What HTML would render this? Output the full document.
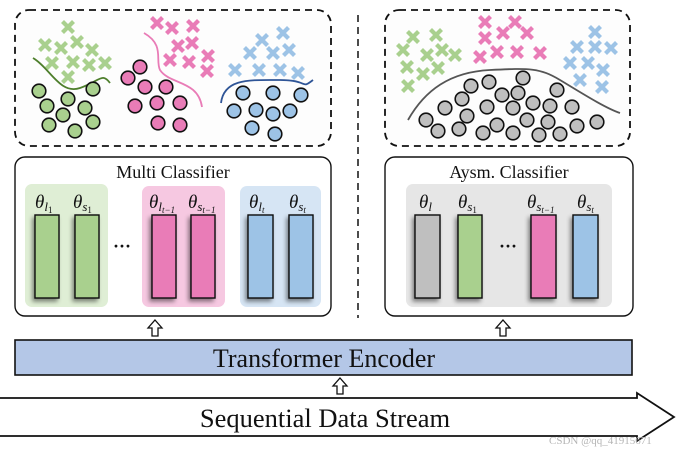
<!DOCTYPE html>
<html><head><meta charset="utf-8"><style>
html,body{margin:0;padding:0;background:#fff;}
svg{display:block;}
text{font-family:"Liberation Serif",serif;}
</style></head><body>
<svg width="688" height="451" viewBox="0 0 688 451" xmlns="http://www.w3.org/2000/svg">
<defs>
<path id="x" d="M-5.5,-5.5L5.5,5.5M-5.5,5.5L5.5,-5.5" fill="none" stroke-width="4.2"/>
<circle id="o" r="6.8" stroke="#111" stroke-width="1.6"/>
<filter id="sh" x="-40%" y="-10%" width="180%" height="130%"><feDropShadow dx="-2" dy="3" stdDeviation="2" flood-color="#000" flood-opacity="0.45"/></filter>
</defs>
<rect width="688" height="451" fill="#fff"/>

<rect x="15" y="10" width="316" height="136" rx="14" fill="#fdfdfd" stroke="#111" stroke-width="1.8" stroke-dasharray="7,5"/>
<rect x="385" y="10" width="245" height="136" rx="14" fill="#fdfdfd" stroke="#111" stroke-width="1.8" stroke-dasharray="7,5"/>
<line x1="358" y1="15" x2="358" y2="318" stroke="#111" stroke-width="1.5" stroke-dasharray="7,5"/>

<g stroke="#a9d08e">
<use href="#x" x="68" y="27"/><use href="#x" x="45" y="45"/><use href="#x" x="61" y="48"/><use href="#x" x="77" y="42"/><use href="#x" x="92" y="50"/><use href="#x" x="52" y="63"/><use href="#x" x="73" y="62"/><use href="#x" x="89" y="65"/><use href="#x" x="105" y="63"/><use href="#x" x="68" y="77"/>
</g>
<path d="M33,58 C50,68 60,95 80,88 S102,72 110,83" fill="none" stroke="#4e7f2c" stroke-width="1.8"/>
<g fill="#a9d08e">
<use href="#o" x="39" y="91"/><use href="#o" x="68" y="99"/><use href="#o" x="93" y="89"/><use href="#o" x="47" y="106"/><use href="#o" x="63" y="115"/><use href="#o" x="85" y="108"/><use href="#o" x="49" y="125"/><use href="#o" x="75" y="131"/><use href="#o" x="93" y="122"/>
</g>
<g stroke="#e97cb7">
<use href="#x" x="157" y="23"/><use href="#x" x="172" y="28"/><use href="#x" x="193" y="26"/><use href="#x" x="178" y="46"/><use href="#x" x="192" y="43"/><use href="#x" x="170" y="60"/><use href="#x" x="189" y="62"/><use href="#x" x="208" y="56"/><use href="#x" x="207" y="71"/>
</g>
<path d="M144,33 C165,45 155,60 160,70 C170,85 198,80 202,107" fill="none" stroke="#e97cb7" stroke-width="1.8"/>
<g fill="#e97cb7">
<use href="#o" x="128" y="78"/><use href="#o" x="140" y="67"/><use href="#o" x="145" y="87"/><use href="#o" x="166" y="87"/><use href="#o" x="135" y="106"/><use href="#o" x="157" y="103"/><use href="#o" x="180" y="103"/><use href="#o" x="158" y="123"/><use href="#o" x="180" y="125"/>
</g>
<g stroke="#9dc3e6">
<use href="#x" x="262" y="40"/><use href="#x" x="283" y="33"/><use href="#x" x="250" y="53"/><use href="#x" x="273" y="53"/><use href="#x" x="289" y="50"/><use href="#x" x="235" y="70"/><use href="#x" x="259" y="70"/><use href="#x" x="280" y="70"/><use href="#x" x="298" y="73"/>
</g>
<path d="M221,103 C224,78 250,80 280,80 S300,90 313,80" fill="none" stroke="#2f5597" stroke-width="1.8"/>
<g fill="#9dc3e6">
<use href="#o" x="243" y="93"/><use href="#o" x="273" y="93"/><use href="#o" x="301" y="95"/><use href="#o" x="234" y="111"/><use href="#o" x="256" y="110"/><use href="#o" x="273" y="114"/><use href="#o" x="290" y="111"/><use href="#o" x="252" y="128"/><use href="#o" x="275" y="134"/>
</g>

<g stroke="#a9d08e">
<use href="#x" x="413" y="37"/><use href="#x" x="436" y="35"/><use href="#x" x="403" y="50"/><use href="#x" x="427" y="55"/><use href="#x" x="442" y="50"/><use href="#x" x="455" y="55"/><use href="#x" x="407" y="67"/><use href="#x" x="423" y="74"/><use href="#x" x="438" y="68"/><use href="#x" x="408" y="86"/>
</g>
<g stroke="#e97cb7">
<use href="#x" x="485" y="22"/><use href="#x" x="515" y="22"/><use href="#x" x="485" y="38"/><use href="#x" x="503" y="33"/><use href="#x" x="527" y="33"/><use href="#x" x="480" y="57"/><use href="#x" x="497" y="52"/><use href="#x" x="517" y="52"/><use href="#x" x="540" y="53"/>
</g>
<g stroke="#9dc3e6">
<use href="#x" x="595" y="32"/><use href="#x" x="577" y="47"/><use href="#x" x="595" y="47"/><use href="#x" x="611" y="48"/><use href="#x" x="570" y="63"/><use href="#x" x="588" y="63"/><use href="#x" x="603" y="70"/><use href="#x" x="580" y="80"/><use href="#x" x="602" y="87"/>
</g>
<path d="M408,120 C425,90 450,72 490,70 S540,68 560,80 S605,108 620,113" fill="none" stroke="#555" stroke-width="1.8"/>
<g fill="#bfbfbf">
<use href="#o" x="523" y="78"/><use href="#o" x="489" y="82"/><use href="#o" x="471" y="86"/><use href="#o" x="502" y="95"/><use href="#o" x="518" y="93"/><use href="#o" x="557" y="90"/><use href="#o" x="462" y="99"/><use href="#o" x="445" y="108"/><use href="#o" x="487" y="107"/><use href="#o" x="513" y="108"/><use href="#o" x="533" y="103"/><use href="#o" x="550" y="106"/><use href="#o" x="572" y="107"/><use href="#o" x="467" y="116"/><use href="#o" x="426" y="120"/><use href="#o" x="438" y="131"/><use href="#o" x="459" y="129"/><use href="#o" x="483" y="133"/><use href="#o" x="497" y="125"/><use href="#o" x="513" y="133"/><use href="#o" x="527" y="120"/><use href="#o" x="539" y="135"/><use href="#o" x="548" y="122"/><use href="#o" x="560" y="134"/><use href="#o" x="577" y="126"/><use href="#o" x="597" y="122"/>
</g>

<rect x="15" y="157" width="316" height="159" rx="10" fill="#fff" stroke="#111" stroke-width="1.4"/>
<text x="173" y="178" font-size="18" text-anchor="middle" fill="#111">Multi Classifier</text>
<rect x="25" y="184" width="83" height="123" rx="7" fill="#dfeed5"/>
<rect x="142" y="186" width="83" height="121" rx="7" fill="#f6c8e1"/>
<rect x="240" y="186" width="81" height="121" rx="7" fill="#d6e5f4"/>
<g stroke="#111" stroke-width="1.4" filter="url(#sh)">
<rect x="35" y="215" width="24" height="83" fill="#a9d08e"/>
<rect x="75" y="215" width="24" height="83" fill="#a9d08e"/>
<rect x="152" y="215" width="24" height="83" fill="#e97cb7"/>
<rect x="191" y="215" width="24" height="83" fill="#e97cb7"/>
<rect x="248" y="215" width="25" height="83" fill="#9dc3e6"/>
<rect x="289" y="215" width="24" height="83" fill="#9dc3e6"/>
</g>
<text x="122" y="252" font-size="18" text-anchor="middle" font-weight="bold" fill="#111">···</text>
<g font-size="19" font-style="italic" fill="#111">
<text x="35" y="208">θ<tspan font-size="13" dy="3">l</tspan><tspan font-size="9" dy="2" font-style="normal">1</tspan></text>
<text x="73" y="208">θ<tspan font-size="13" dy="3">s</tspan><tspan font-size="9" dy="2" font-style="normal">1</tspan></text>
<text x="149" y="208">θ<tspan font-size="13" dy="3">l</tspan><tspan font-size="9" dy="2">t−1</tspan></text>
<text x="188" y="208">θ<tspan font-size="13" dy="3">s</tspan><tspan font-size="9" dy="2">t−1</tspan></text>
<text x="249" y="208">θ<tspan font-size="13" dy="3">l</tspan><tspan font-size="9" dy="2">t</tspan></text>
<text x="289" y="208">θ<tspan font-size="13" dy="3">s</tspan><tspan font-size="9" dy="2">t</tspan></text>
</g>

<rect x="385" y="157" width="248" height="159" rx="10" fill="#fff" stroke="#111" stroke-width="1.4"/>
<text x="509" y="178" font-size="18" text-anchor="middle" fill="#111">Aysm. Classifier</text>
<rect x="406" y="184" width="206" height="123" rx="7" fill="#e6e6e6"/>
<g stroke="#111" stroke-width="1.4" filter="url(#sh)">
<rect x="415" y="215" width="25" height="83" fill="#bfbfbf"/>
<rect x="458" y="215" width="24" height="83" fill="#a9d08e"/>
<rect x="531" y="215" width="25" height="83" fill="#e97cb7"/>
<rect x="573" y="215" width="25" height="83" fill="#9dc3e6"/>
</g>
<text x="508" y="252" font-size="18" text-anchor="middle" font-weight="bold" fill="#111">···</text>
<g font-size="19" font-style="italic" fill="#111">
<text x="419" y="208">θ<tspan font-size="13" dy="3">l</tspan></text>
<text x="458" y="208">θ<tspan font-size="13" dy="3">s</tspan><tspan font-size="9" dy="2" font-style="normal">1</tspan></text>
<text x="527" y="208">θ<tspan font-size="13" dy="3">s</tspan><tspan font-size="9" dy="2">t−1</tspan></text>
<text x="577" y="208">θ<tspan font-size="13" dy="3">s</tspan><tspan font-size="9" dy="2">t</tspan></text>
</g>

<g fill="#fff" stroke="#111" stroke-width="1.3">
<path d="M155,320 L162,328 L158,328 L158,336 L152,336 L152,328 L148,328 Z"/>
<path d="M503,320 L510,328 L506,328 L506,336 L500,336 L500,328 L496,328 Z"/>
<path d="M340,378 L347,386 L343,386 L343,394 L337,394 L337,386 L333,386 Z"/>
</g>

<rect x="15" y="340" width="617" height="35" fill="#b4c7e7" stroke="#111" stroke-width="1.6"/>
<text x="324" y="367" font-size="26" text-anchor="middle" fill="#111">Transformer Encoder</text>

<path d="M0,398 L637,398 L637,393 L674,417 L637,441 L637,436 L0,436" fill="#fff" stroke="#111" stroke-width="1.8"/>
<text x="325" y="427" font-size="26.5" text-anchor="middle" fill="#111">Sequential Data Stream</text>
<text x="549" y="444" font-size="11" fill="#b5b5b5" font-family="Liberation Sans,sans-serif">CSDN @qq_41915671</text>
</svg>
</body></html>
